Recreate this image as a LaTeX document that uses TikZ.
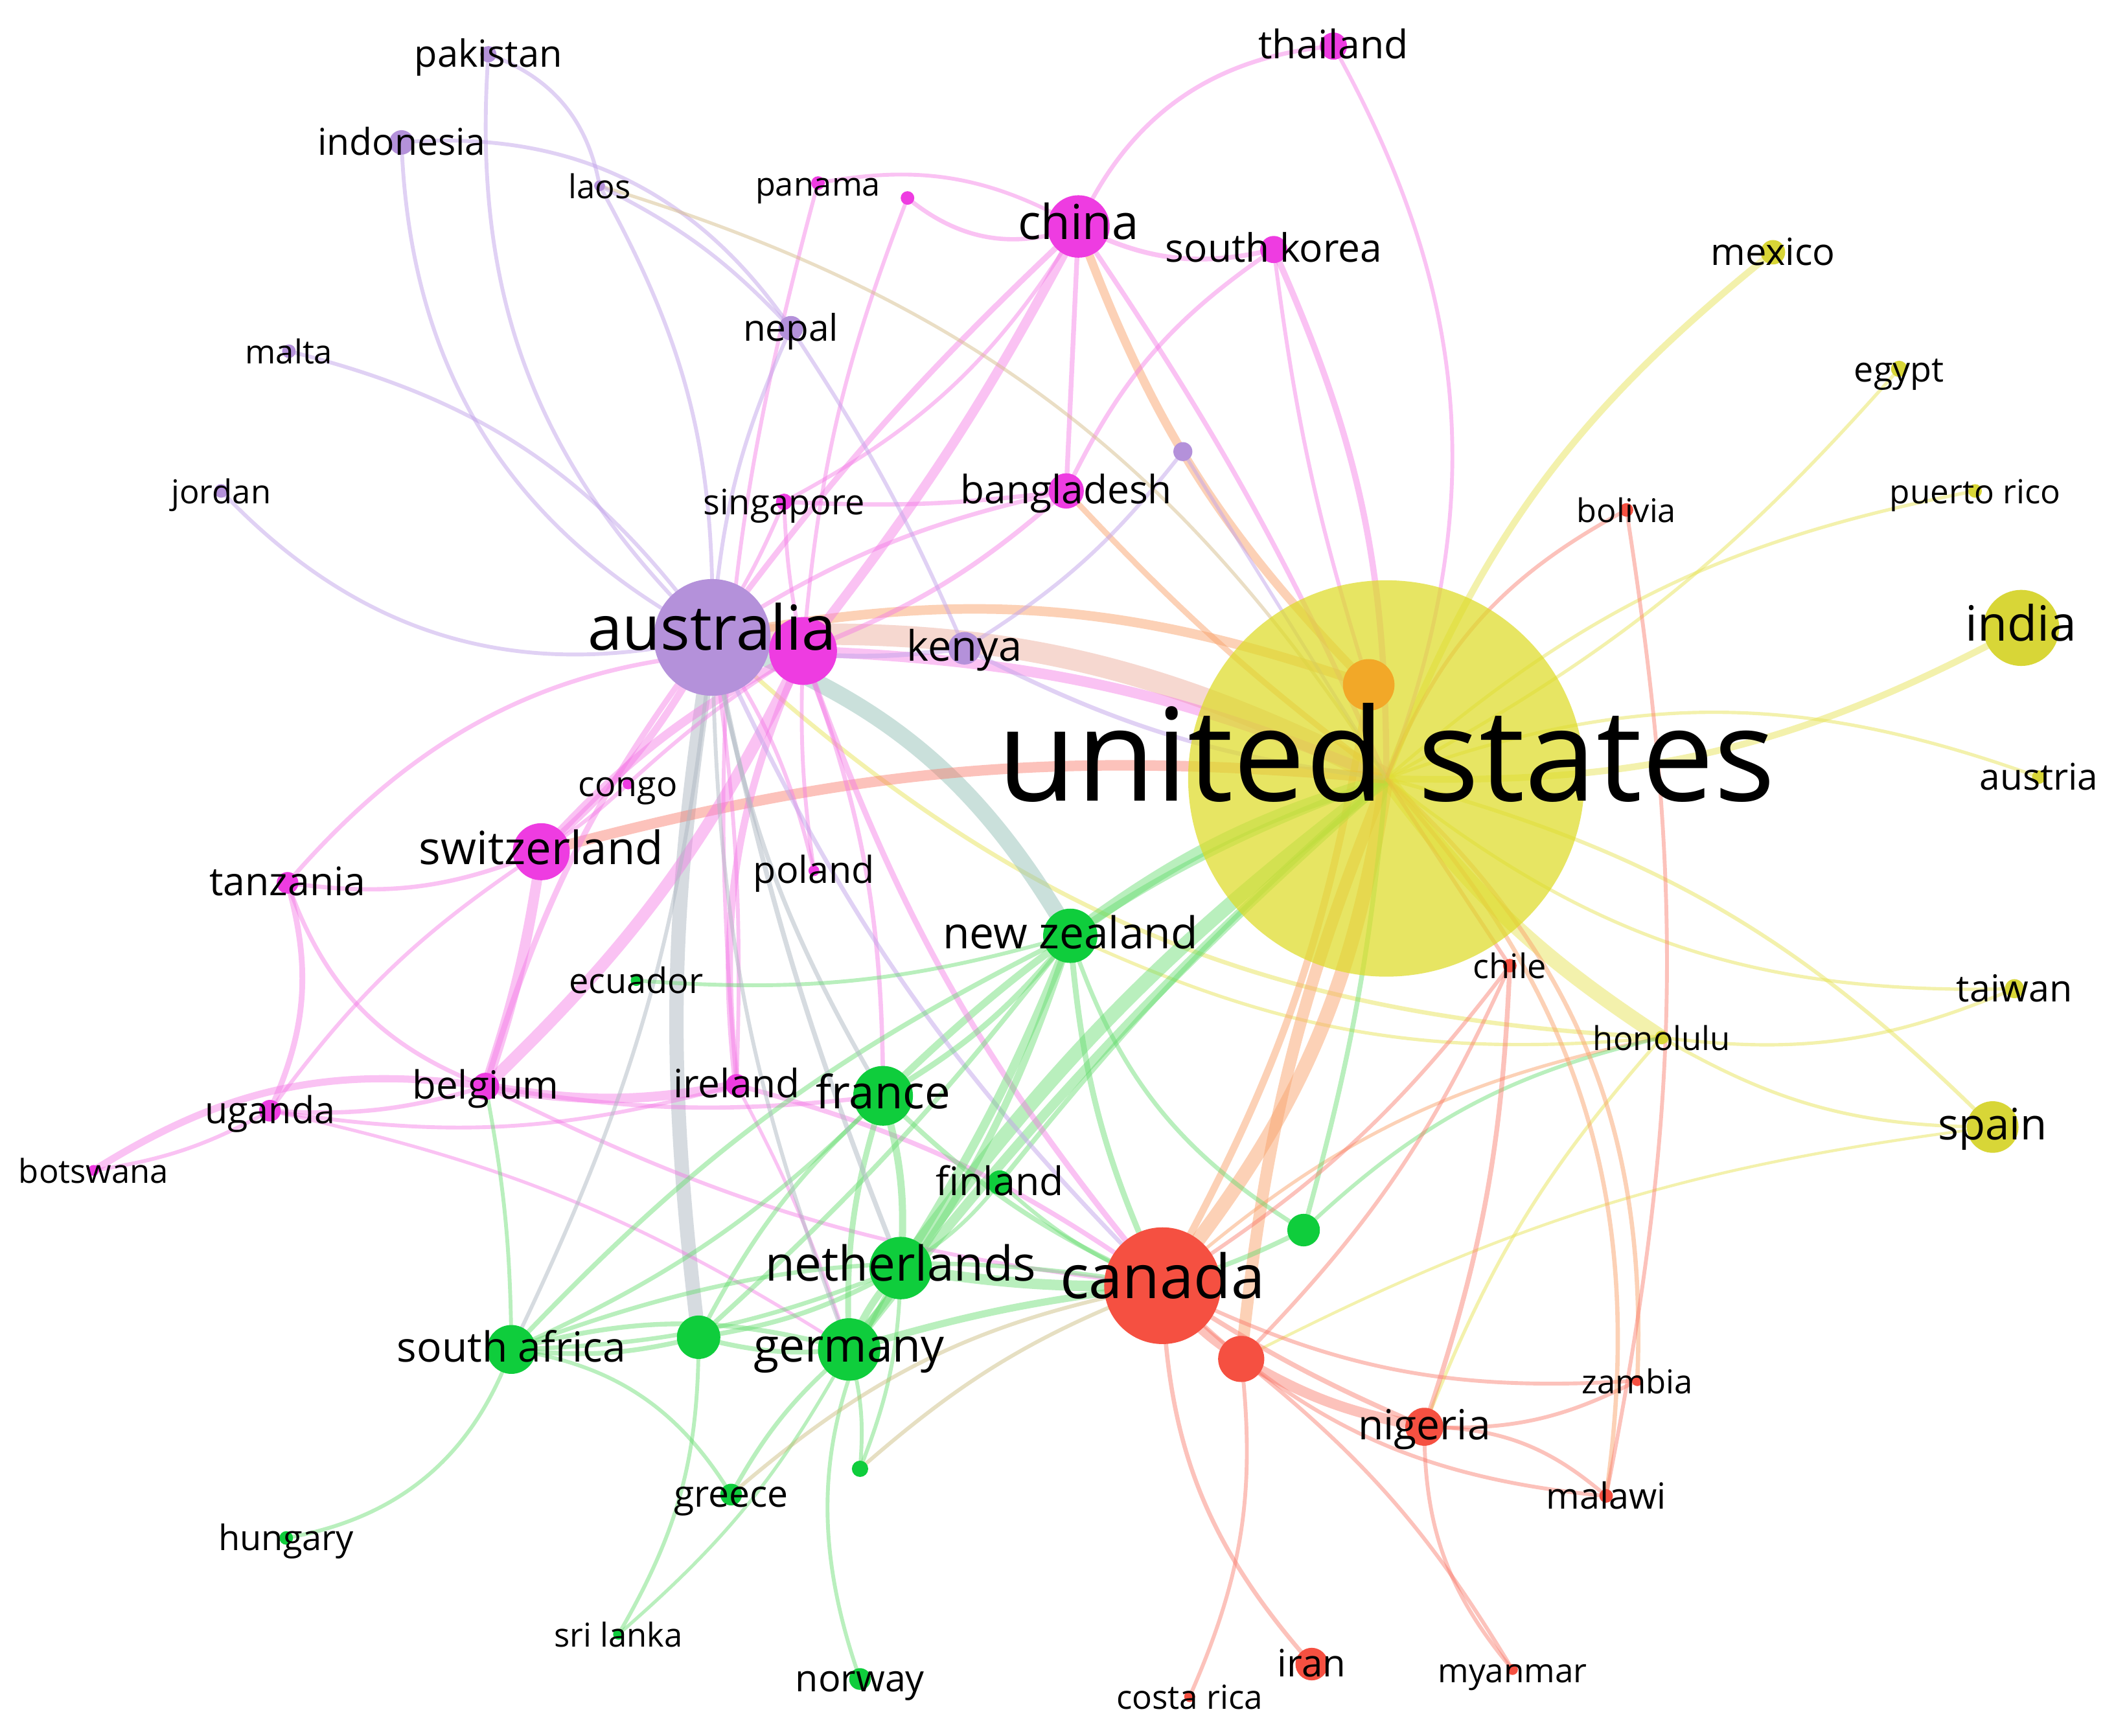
\documentclass[tikz,border=0pt]{standalone}
\usepackage{fontspec}
\setmainfont{Open Sans}
\usetikzlibrary{backgrounds}
% node colours
\definecolor{cY}{RGB}{222,220,40}
\definecolor{cYs}{RGB}{216,214,55}
\definecolor{cO}{RGB}{242,168,40}
\definecolor{cR}{RGB}{245,80,65}
\definecolor{cG}{RGB}{15,205,60}
\definecolor{cP}{RGB}{238,60,225}
\definecolor{cV}{RGB}{180,145,218}
% edge colours
\definecolor{cEP}{RGB}{245,120,230}
\definecolor{cEV}{RGB}{195,165,235}
\definecolor{cEG}{RGB}{100,220,110}
\definecolor{cER}{RGB}{250,120,105}
\definecolor{cEY}{RGB}{232,228,90}
\definecolor{cEO}{RGB}{250,165,110}
\definecolor{cET}{RGB}{150,195,185}
\definecolor{cEGr}{RGB}{175,185,195}
\definecolor{cEB}{RGB}{215,190,140}
\definecolor{cEBand}{RGB}{240,185,170}
\definecolor{cEBr}{RGB}{200,185,120}
\tikzset{
  dot/.style={circle, inner sep=0pt, draw=none},
  lbl/.style={anchor=mid, inner sep=0pt, text=black},
  eP/.style={draw=cEP, draw opacity=0.45},
  eV/.style={draw=cEV, draw opacity=0.5},
  eG/.style={draw=cEG, draw opacity=0.45},
  eR/.style={draw=cER, draw opacity=0.45},
  eY/.style={draw=cEY, draw opacity=0.5},
  eO/.style={draw=cEO, draw opacity=0.5},
  eT/.style={draw=cET, draw opacity=0.5},
  eGr/.style={draw=cEGr, draw opacity=0.5},
  eB/.style={draw=cEB, draw opacity=0.5},
  eBand/.style={draw=cEBand, draw opacity=0.55},
  eBr/.style={draw=cEBr, draw opacity=0.45},
}
\newcommand\ndc[5]{\node[dot, fill=#5, minimum size={#4*0.02cm}] (#1) at (#2,#3) {};}
\newcommand\ndl[4][]{\node[lbl, font=\fontsize{#4pt}{#4pt}\selectfont, #1] (#2t) at (#2.center) {#3};}
\newcommand\edg[5]{\draw[#3, line width=#4pt] (#1.center) to[bend left=#5] (#2.center);}
\begin{document}
\begin{tikzpicture}[x=0.01cm, y=-0.01cm]
\useasboundingbox (0,0) rectangle (1568,1280);
% ---------------- circles
\node[dot, fill=cY, fill opacity=0.72, minimum size={146*0.02cm}] (us) at (1022,574) {};
\ndc{orn}{1009}{505}{19}{cO}
\ndc{india}{1490}{463}{28}{cYs}
\ndc{mexico}{1307}{186}{9}{cYs}
\ndc{egypt}{1400}{272}{6}{cYs}
\ndc{prico}{1456}{362}{5}{cYs}
\ndc{austria}{1503}{573}{5}{cYs}
\ndc{taiwan}{1485}{729}{7}{cYs}
\ndc{honolulu}{1225}{765}{5}{cYs}
\ndc{spain}{1469}{831}{19}{cYs}
\ndc{chile}{1113}{712}{5}{cR}
\ndc{bolivia}{1199}{376}{5}{cR}
\ndc{canada}{857}{948}{43}{cR}
\ndc{redb}{915}{1002}{17}{cR}
\ndc{nigeria}{1050}{1052}{14}{cR}
\ndc{zambia}{1207}{1018}{4}{cR}
\ndc{malawi}{1184}{1103}{5}{cR}
\ndc{myanmar}{1115}{1231}{4}{cR}
\ndc{iran}{967}{1227}{12}{cR}
\ndc{costarica}{877}{1251}{4}{cR}
\ndc{nz}{789}{690}{20}{cG}
\ndc{france}{651}{808}{22}{cG}
\ndc{finland}{737}{872}{9}{cG}
\ndc{neth}{664}{935}{23}{cG}
\ndc{germany}{626}{995}{23}{cG}
\ndc{safrica}{377}{995}{18}{cG}
\ndc{gb}{515}{986}{16}{cG}
\ndc{gc}{961}{907}{12}{cG}
\ndc{ecuador}{469}{723}{4}{cG}
\ndc{greece}{539}{1102}{8}{cG}
\ndc{gd}{634}{1083}{6}{cG}
\ndc{hungary}{211}{1134}{5}{cG}
\ndc{srilanka}{456}{1205}{4}{cG}
\ndc{norway}{634}{1238}{8}{cG}
\ndc{china}{795}{167}{23}{cP}
\ndc{thailand}{983}{34}{10}{cP}
\ndc{skorea}{939}{184}{10}{cP}
\ndc{panama}{603}{135}{5}{cP}
\ndc{pdot}{669}{146}{5}{cP}
\ndc{bangladesh}{786}{362}{13}{cP}
\ndc{singapore}{578}{370}{6}{cP}
\ndc{switz}{399}{628}{21}{cP}
\ndc{tanzania}{212}{651}{8}{cP}
\ndc{congo}{463}{578}{4}{cP}
\ndc{poland}{600}{642}{4}{cP}
\ndc{belgium}{358}{801}{10}{cP}
\ndc{ireland}{543}{800}{8}{cP}
\ndc{uganda}{199}{819}{8}{cP}
\ndc{botswana}{69}{863}{4}{cP}
\ndc{australia}{525}{470}{43}{cV}
\ndc{pk}{592}{480}{25}{cP}
\ndc{pakistan}{360}{40}{6}{cV}
\ndc{indonesia}{296}{105}{9}{cV}
\ndc{laos}{442}{137}{4}{cV}
\ndc{nepal}{583}{242}{9}{cV}
\ndc{malta}{213}{259}{5}{cV}
\ndc{jordan}{163}{362}{5}{cV}
\ndc{kenya}{711}{478}{12}{cV}
\ndc{vdot}{872}{333}{7}{cV}
% ---------------- edges
\begin{pgfonlayer}{background}
\fill[white] (0,0) rectangle (1568,1280);
% yellow
\edg{us}{india}{eY}{1.4}{-15}
\edg{us}{mexico}{eY}{1.4}{15}
\edg{us}{egypt}{eY}{0.7}{-10}
\edg{us}{prico}{eY}{0.7}{15}
\edg{us}{austria}{eY}{0.7}{20}
\edg{us}{taiwan}{eY}{0.7}{-20}
\edg{us}{spain}{eY}{0.8}{15}
\edg{us}{honolulu}{eY}{3.2}{-10}
\edg{honolulu}{spain}{eY}{0.7}{-15}
\edg{honolulu}{taiwan}{eY}{0.7}{-15}
\edg{honolulu}{australia}{eY}{0.9}{20}
\edg{honolulu}{nz}{eY}{0.7}{15}
\edg{honolulu}{nigeria}{eY}{0.7}{-10}
\edg{honolulu}{canada}{eO}{0.7}{-15}
\edg{spain}{redb}{eY}{0.6}{-10}
% main cross-cluster
\edg{australia}{us}{eBand}{4.5}{15}
\edg{pk}{us}{eP}{2.2}{10}
\edg{orn}{australia}{eO}{2.0}{-15}
\edg{canada}{us}{eO}{3.0}{-15}
\edg{redb}{us}{eO}{2.5}{8}
\edg{orn}{canada}{eO}{1.5}{10}
\edg{nz}{us}{eG}{2.5}{10}
\edg{neth}{us}{eG}{3.0}{8}
\edg{france}{us}{eG}{1.5}{12}
\edg{germany}{us}{eG}{2.0}{5}
\edg{finland}{us}{eG}{1.0}{5}
\edg{australia}{nz}{eT}{3.5}{20}
\edg{australia}{gb}{eGr}{3.0}{-8}
\edg{switz}{us}{eR}{2.2}{10}
\edg{china}{pk}{eP}{2.0}{5}
\edg{china}{australia}{eP}{1.2}{-5}
\edg{china}{orn}{eO}{1.8}{-12}
\edg{china}{us}{eP}{1.0}{5}
\edg{china}{bangladesh}{eP}{1.0}{0}
% pink
\edg{thailand}{china}{eP}{0.9}{-30}
\edg{thailand}{us}{eP}{0.8}{25}
\edg{china}{skorea}{eP}{1.0}{-20}
\edg{pdot}{china}{eP}{0.9}{-30}
\edg{panama}{china}{eP}{0.8}{20}
\edg{pdot}{pk}{eP}{0.8}{-8}
\edg{panama}{ireland}{eP}{0.8}{-10}
\edg{skorea}{bangladesh}{eP}{0.9}{-15}
\edg{skorea}{us}{eP}{1.3}{12}
\edg{skorea}{orn}{eP}{0.8}{-5}
\edg{bangladesh}{singapore}{eP}{0.9}{5}
\edg{bangladesh}{australia}{eP}{0.9}{-10}
\edg{bangladesh}{us}{eO}{1.2}{-5}
\edg{bangladesh}{pk}{eP}{1.0}{10}
\edg{singapore}{australia}{eP}{0.8}{5}
\edg{singapore}{pk}{eP}{0.8}{-5}
\edg{singapore}{china}{eP}{0.8}{-15}
\edg{switz}{tanzania}{eP}{0.9}{15}
\edg{tanzania}{pk}{eP}{0.9}{25}
\edg{tanzania}{uganda}{eP}{1.2}{20}
\edg{tanzania}{belgium}{eP}{0.9}{-25}
\edg{uganda}{switz}{eP}{0.8}{10}
\edg{belgium}{botswana}{eP}{1.5}{-20}
\edg{uganda}{botswana}{eP}{0.8}{10}
\edg{uganda}{belgium}{eP}{0.9}{-10}
\edg{uganda}{ireland}{eP}{0.8}{-12}
\edg{uganda}{germany}{eP}{0.7}{10}
\edg{belgium}{ireland}{eP}{2.0}{-10}
\edg{belgium}{pk}{eP}{2.5}{-10}
\edg{belgium}{australia}{eP}{1.2}{10}
\edg{switz}{belgium}{eP}{2.2}{5}
\edg{switz}{australia}{eP}{1.5}{-10}
\edg{switz}{pk}{eP}{1.8}{10}
\edg{congo}{pk}{eP}{0.8}{5}
\edg{congo}{switz}{eP}{0.8}{5}
\edg{poland}{pk}{eP}{0.8}{5}
\edg{poland}{australia}{eP}{0.8}{-10}
\edg{ireland}{pk}{eP}{1.5}{15}
\edg{ireland}{australia}{eP}{0.8}{-5}
\edg{ireland}{canada}{eP}{1.0}{10}
\edg{pk}{canada}{eP}{1.2}{-10}
\edg{pk}{france}{eP}{0.9}{10}
\edg{belgium}{canada}{eP}{0.8}{-10}
\edg{belgium}{france}{eP}{0.9}{-8}
\edg{ireland}{germany}{eP}{0.7}{5}
% purple
\edg{pakistan}{australia}{eV}{0.8}{-25}
\edg{indonesia}{australia}{eV}{0.8}{-30}
\edg{pakistan}{laos}{eV}{0.8}{30}
\edg{indonesia}{nepal}{eV}{0.8}{30}
\edg{laos}{us}{eB}{0.7}{20}
\edg{laos}{nepal}{eV}{0.8}{10}
\edg{laos}{australia}{eV}{0.8}{15}
\edg{malta}{australia}{eV}{0.8}{20}
\edg{jordan}{australia}{eV}{0.8}{-30}
\edg{nepal}{australia}{eV}{0.8}{-10}
\edg{nepal}{kenya}{eV}{0.8}{5}
\edg{vdot}{kenya}{eV}{0.8}{10}
\edg{vdot}{us}{eV}{0.7}{0}
\edg{kenya}{australia}{eV}{1.0}{10}
\edg{kenya}{us}{eV}{0.9}{-10}
\edg{australia}{canada}{eV}{0.9}{-10}
% green
\edg{nz}{france}{eG}{1.2}{10}
\edg{nz}{neth}{eG}{1.8}{5}
\edg{nz}{germany}{eG}{1.5}{10}
\edg{nz}{canada}{eG}{1.2}{-10}
\edg{nz}{gc}{eG}{0.9}{-20}
\edg{nz}{safrica}{eG}{1.0}{-10}
\edg{nz}{gb}{eG}{1.0}{5}
\edg{france}{neth}{eG}{1.5}{10}
\edg{france}{germany}{eG}{1.2}{-10}
\edg{france}{safrica}{eG}{0.9}{10}
\edg{france}{gb}{eG}{0.9}{-10}
\edg{france}{canada}{eG}{1.0}{-10}
\edg{france}{australia}{eGr}{0.9}{10}
\edg{finland}{neth}{eG}{0.8}{10}
\edg{finland}{canada}{eG}{0.8}{-10}
\edg{neth}{germany}{eG}{1.5}{-10}
\edg{neth}{canada}{eG}{2.2}{-5}
\edg{neth}{safrica}{eG}{0.9}{10}
\edg{neth}{gb}{eG}{1.0}{10}
\edg{neth}{norway}{eG}{0.8}{-25}
\edg{neth}{gd}{eG}{0.8}{10}
\edg{germany}{gb}{eG}{1.0}{10}
\edg{germany}{safrica}{eG}{1.0}{-15}
\edg{germany}{greece}{eG}{0.9}{-10}
\edg{germany}{gd}{eG}{0.8}{10}
\edg{germany}{canada}{eG}{1.5}{5}
\edg{safrica}{hungary}{eG}{0.8}{30}
\edg{safrica}{gb}{eG}{1.0}{-10}
\edg{safrica}{greece}{eG}{0.8}{25}
\edg{safrica}{belgium}{eG}{0.8}{-5}
\edg{safrica}{canada}{eG}{0.9}{15}
\edg{safrica}{australia}{eGr}{0.8}{-10}
\edg{gb}{srilanka}{eG}{0.8}{15}
\edg{srilanka}{germany}{eG}{0.7}{-10}
\edg{greece}{canada}{eBr}{0.8}{15}
\edg{gd}{canada}{eBr}{0.8}{10}
\edg{ecuador}{nz}{eG}{0.8}{-10}
\edg{gc}{canada}{eG}{1.0}{5}
\edg{gc}{honolulu}{eG}{0.8}{15}
\edg{gc}{us}{eG}{1.0}{-5}
\edg{australia}{neth}{eGr}{1.0}{-5}
\edg{australia}{germany}{eGr}{0.8}{-10}
% red
\edg{canada}{redb}{eR}{2.0}{-10}
\edg{redb}{nigeria}{eR}{2.2}{-10}
\edg{canada}{nigeria}{eR}{1.0}{-5}
\edg{canada}{iran}{eR}{0.9}{-20}
\edg{redb}{costarica}{eR}{0.8}{15}
\edg{nigeria}{zambia}{eR}{0.8}{-15}
\edg{nigeria}{malawi}{eR}{0.8}{20}
\edg{nigeria}{myanmar}{eR}{0.8}{-20}
\edg{redb}{myanmar}{eR}{0.8}{10}
\edg{nigeria}{chile}{eR}{1.0}{-8}
\edg{canada}{zambia}{eR}{0.8}{-15}
\edg{canada}{malawi}{eR}{0.8}{-20}
\edg{us}{zambia}{eO}{0.9}{25}
\edg{us}{malawi}{eO}{0.9}{25}
\edg{bolivia}{us}{eR}{0.8}{-20}
\edg{bolivia}{malawi}{eR}{0.8}{10}
\edg{chile}{us}{eR}{0.8}{0}
\edg{chile}{canada}{eR}{0.8}{10}
\edg{redb}{chile}{eR}{0.8}{-10}
\end{pgfonlayer}
% ---------------- labels
\ndl[yshift=-0.07cm]{us}{united states}{27.0}
\ndl{australia}{australia}{13.0}
\ndl{canada}{canada}{12.75}
\ndl{china}{china}{10.1}
\ndl{india}{india}{10.2}
\ndl{neth}{netherlands}{10.1}
\ndl{germany}{germany}{9.7}
\ndl{switz}{switzerland}{9.6}
\ndl{france}{france}{9.6}
\ndl{nz}{new zealand}{9.2}
\ndl{spain}{spain}{9.1}
\ndl{safrica}{south africa}{8.7}
\ndl{kenya}{kenya}{8.8}
\ndl{nigeria}{nigeria}{8.7}
\ndl{bangladesh}{bangladesh}{8.2}
\ndl{thailand}{thailand}{8.25}
\ndl{skorea}{south korea}{8.2}
\ndl{tanzania}{tanzania}{8.25}
\ndl{belgium}{belgium}{8.15}
\ndl{ireland}{ireland}{8.2}
\ndl{finland}{finland}{8.25}
\ndl{mexico}{mexico}{7.85}
\ndl{iran}{iran}{7.9}
\ndl{uganda}{uganda}{7.8}
\ndl{indonesia}{indonesia}{7.75}
\ndl{pakistan}{pakistan}{7.85}
\ndl{poland}{poland}{7.8}
\ndl{greece}{greece}{7.75}
\ndl{norway}{norway}{7.8}
\ndl{taiwan}{taiwan}{7.8}
\ndl{nepal}{nepal}{7.7}
\ndl{austria}{austria}{7.7}
\ndl{malawi}{malawi}{7.55}
\ndl{hungary}{hungary}{7.35}
\ndl{singapore}{singapore}{7.35}
\ndl{congo}{congo}{7.3}
\ndl{ecuador}{ecuador}{7.35}
\ndl{egypt}{egypt}{7.3}
\ndl{chile}{chile}{7.1}
\ndl{panama}{panama}{6.85}
\ndl{laos}{laos}{6.9}
\ndl{malta}{malta}{6.9}
\ndl{jordan}{jordan}{6.9}
\ndl{botswana}{botswana}{6.9}
\ndl{srilanka}{sri lanka}{6.9}
\ndl{costarica}{costa rica}{6.95}
\ndl{myanmar}{myanmar}{6.95}
\ndl{zambia}{zambia}{6.9}
\ndl{prico}{puerto rico}{6.95}
\ndl{honolulu}{honolulu}{6.9}
\ndl{bolivia}{bolivia}{6.85}
\end{tikzpicture}
\end{document}
